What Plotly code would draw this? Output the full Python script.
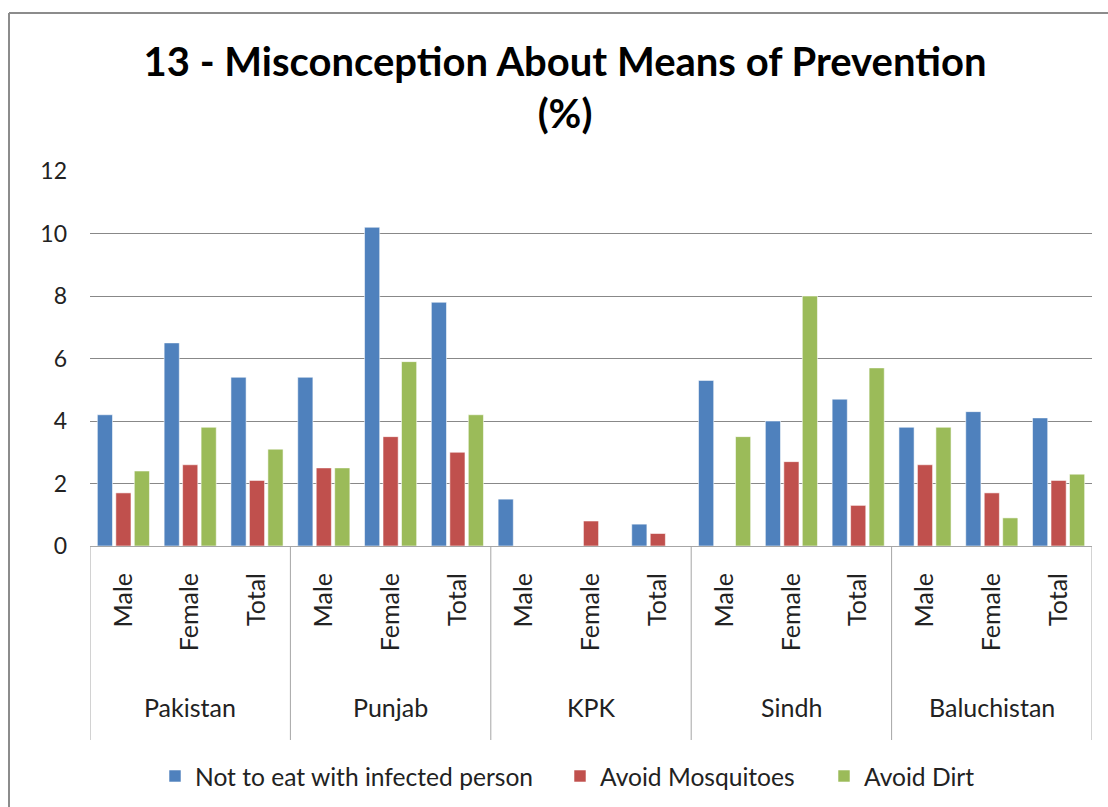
import plotly.graph_objects as go

# Regions and respondent groups
regions = ["Pakistan", "Punjab", "KPK", "Sindh", "Baluchistan"]
genders = ["Male", "Female", "Total"]

# Percentages per region/gender (Male, Female, Total for each region)
not_eat_infected = [4.2, 6.5, 5.4, 5.4, 10.2, 7.8, 1.5, 0.0, 0.7, 5.3, 4.0, 4.7, 3.8, 4.3, 4.1]
avoid_mosquitoes = [1.7, 2.6, 2.1, 2.5, 3.5, 3.0, 0.0, 0.8, 0.4, 0.0, 2.7, 1.3, 2.6, 1.7, 2.1]
avoid_dirt = [2.4, 3.8, 3.1, 2.5, 5.9, 4.2, 0.0, 0.0, 0.0, 3.5, 8.0, 5.7, 3.8, 0.9, 2.3]

series = [
    ("Not to eat with infected person", not_eat_infected, "#4F81BD"),
    ("Avoid Mosquitoes", avoid_mosquitoes, "#C0504D"),
    ("Avoid Dirt", avoid_dirt, "#9BBB59"),
]

FONT = "Lato"
n_sub = len(genders)
positions = [g * n_sub + s for g in range(len(regions)) for s in range(n_sub)]

W, H = 1108, 807
L, R, T, B = 90, 16, 171, 261
plot_h = H - T - B

def py(px_y):
    """Convert a page y pixel to paper coordinates."""
    return (H - B - px_y) / plot_h

def px_x(px):
    return (px - L) / (W - L - R)

# One legend box per series so each entry sits at its own spot in the row
legend_ids = ["legend", "legend2", "legend3"]
legend_left = [155, 560, 824]

fig = go.Figure()
for (name, vals, color), lid in zip(series, legend_ids):
    fig.add_trace(go.Bar(
        x=positions, y=vals, name=name, legend=lid, showlegend=True,
        marker=dict(color=color, line=dict(color="rgba(255,255,255,0.55)", width=1)),
    ))

shapes = []
# Category table dividers below the axis
for g in range(len(regions) + 1):
    shapes.append(dict(type="line", xref="x", yref="paper",
                       x0=g * n_sub - 0.5, x1=g * n_sub - 0.5,
                       y0=0, y1=py(740), line=dict(color="#A6A6A6", width=1)))
# Chart border (top and left edges; the others run off the page)
border = dict(color="#8C8C8C", width=2)
shapes.append(dict(type="line", xref="paper", yref="paper",
                   x0=px_x(9), x1=px_x(1120), y0=py(13), y1=py(13), line=border))
shapes.append(dict(type="line", xref="paper", yref="paper",
                   x0=px_x(9), x1=px_x(9), y0=py(13), y1=py(820), line=border))

annotations = []
for g, reg in enumerate(regions):
    annotations.append(dict(text=reg, xref="x", yref="paper",
                            x=g * n_sub + (n_sub - 1) / 2, y=py(707),
                            showarrow=False, xanchor="center", yanchor="middle",
                            font=dict(family=FONT, size=25, color="#222")))

legend_style = dict(orientation="h", xanchor="left", yanchor="middle",
                    font=dict(family=FONT, size=24.6, color="#222"),
                    itemwidth=30, bgcolor="rgba(0,0,0,0)")

fig.update_layout(
    width=W, height=H, showlegend=True,
    margin=dict(l=L, r=R, t=T, b=B, autoexpand=False),
    paper_bgcolor="white", plot_bgcolor="white",
    barmode="group", bargap=0.17, bargroupgap=0.18,
    title=dict(text="<b>13 - Misconception About Means of Prevention<br>(%)</b>",
               x=565 / W, xanchor="center", xref="container",
               y=1 - 76 / H, yanchor="top", yref="container",
               font=dict(family=FONT, size=40, color="#000")),
    xaxis=dict(range=[-0.5, len(positions) - 0.5], tickmode="array",
               tickvals=positions, ticktext=genders * len(regions),
               tickangle=-90, ticks="", ticklabelstandoff=16,
               showline=True, linecolor="#A6A6A6", linewidth=1,
               showgrid=False, zeroline=False,
               tickfont=dict(family=FONT, size=25, color="#222")),
    yaxis=dict(range=[0, 12], dtick=2, showgrid=True, gridcolor="#888888", gridwidth=1,
               zeroline=False, showline=False, ticks="", ticklabelstandoff=22,
               tickfont=dict(family=FONT, size=23, color="#222")),
    shapes=shapes, annotations=annotations,
)
for lid, left in zip(legend_ids, legend_left):
    fig.update_layout({lid: dict(legend_style, x=px_x(left), y=py(776))})

fig.write_html("out.html")
